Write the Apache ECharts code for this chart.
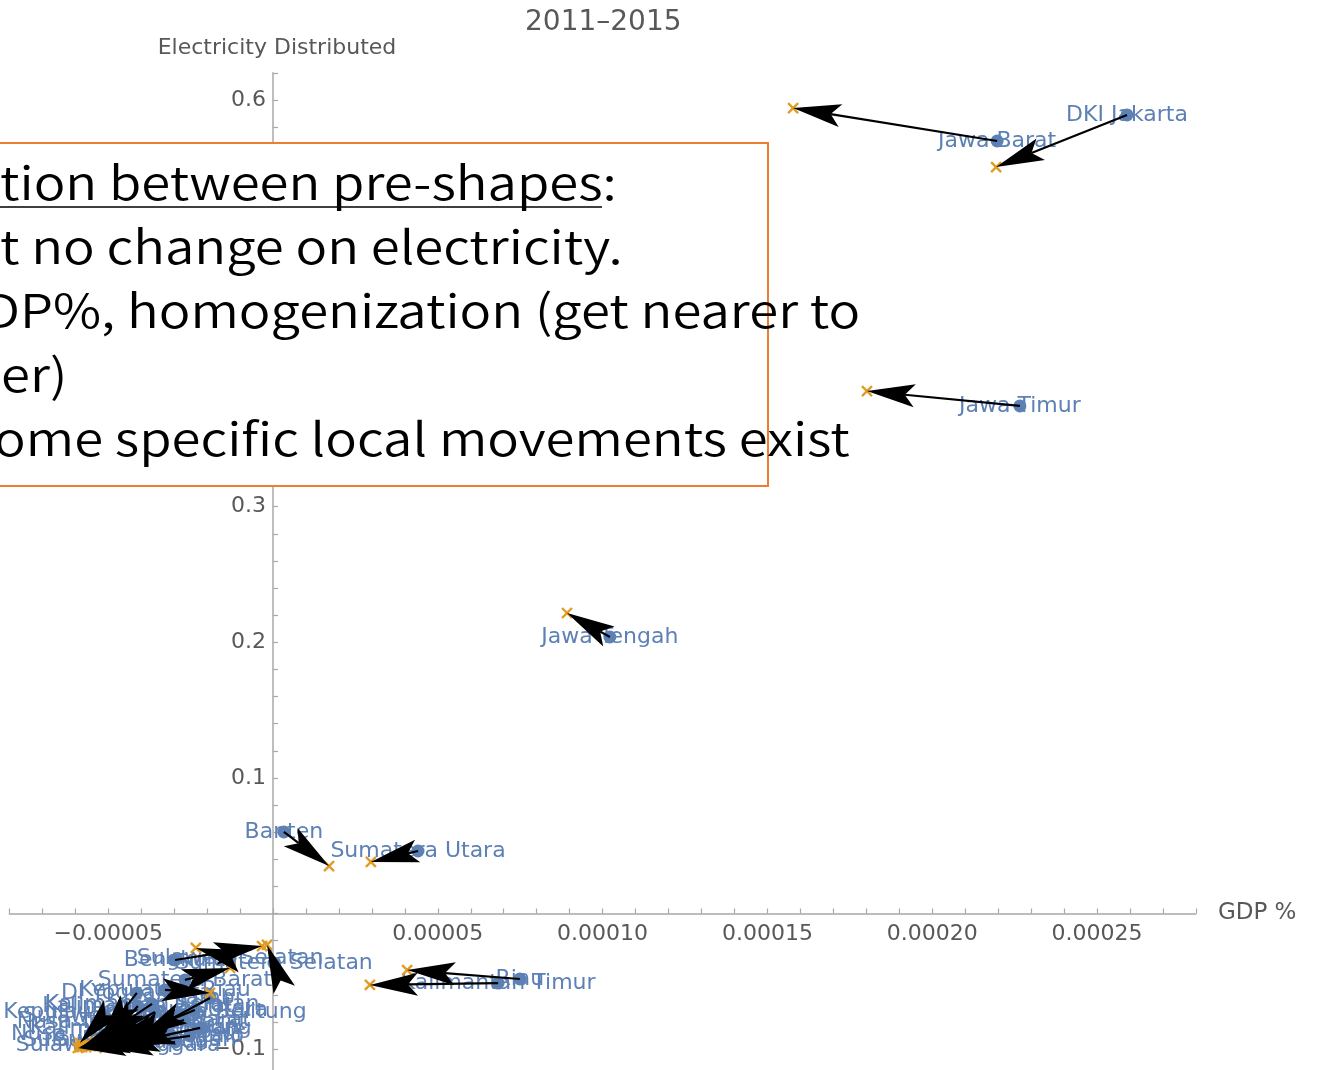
<!DOCTYPE html>
<html>
<head>
<meta charset="utf-8">
<style>
  html, body { margin: 0; padding: 0; background: #ffffff; }
  #chart { width: 1322px; height: 1070px; }
</style>
<script src="https://cdn.jsdelivr.net/npm/echarts@6/dist/echarts.min.js"></script>
</head>
<body>
<div id="chart"></div>
<script>
// ---- data ----
const provinces = ['DKI Jakarta','Jawa Barat','Jawa Timur','Jawa Tengah','Banten','Sumatera Utara','Kalimantan Timur','Riau',
  'Sulawesi Selatan','Sumatera Selatan','Bengkulu','Sumatera Barat','Kepulauan Riau','DI Yogyakarta','Kalimantan Selatan',
  'Kalimantan Barat','Kalimantan Tengah','Papua Barat','Lampung','Sulawesi Tengah','Maluku Utara','Jambi',
  'Nusa Tenggara Barat','Nusa Tenggara Timur','Sulawesi Utara','Sulawesi Barat','Bali','Aceh','Maluku','Papua',
  'Kepulauan Bangka Belitung','Sulawesi Tenggara','Gorontalo'];
// GDP % (2011)
const gdp2011 = [25.91e-5, 21.97e-5, 22.66e-5, 10.22e-5, 0.33e-5, 4.40e-5, 6.83e-5, 7.49e-5,
  -1.30e-5, 0.03e-5, -2.97e-5, -2.67e-5, -3.28e-5, -4.13e-5, -3.67e-5,
  -4.10e-5, -4.19e-5, -2.70e-5, -2.21e-5, -3.88e-5, -2.37e-5, -1.91e-5,
  -4.28e-5, -4.40e-5, -5.10e-5, -5.10e-5, -3.13e-5, -2.82e-5, -3.28e-5, -2.97e-5,
  -3.58e-5, -4.70e-5, -2.52e-5];
// Electricity distributed (2011)
const elec2011 = [0.5889, 0.5697, 0.3743, 0.2039, 0.0601, 0.0461, -0.0513, -0.0483,
  -0.0328, -0.0365, -0.0343, -0.0490, -0.0564, -0.0586, -0.0667,
  -0.0682, -0.0844, -0.0785, -0.0844, -0.0933, -0.0712, -0.0623,
  -0.0800, -0.0889, -0.0756, -0.0933, -0.0896, -0.0748, -0.0785, -0.0948,
  -0.0726, -0.0970, -0.0903];
// GDP % (2015)
const gdp2015 = [21.94e-5, 15.78e-5, 18.02e-5, 8.92e-5, 1.70e-5, 2.97e-5, 2.94e-5, 4.07e-5,
  -2.34e-5, -0.18e-5, -0.33e-5, -1.30e-5, -1.91e-5, -5.25e-5, -5.40e-5,
  -5.10e-5, -5.61e-5, -5.25e-5, -4.43e-5, -5.79e-5, -4.79e-5, -4.04e-5,
  -5.73e-5, -5.67e-5, -5.86e-5, -5.86e-5, -5.55e-5, -4.95e-5, -4.64e-5, -5.10e-5,
  -5.37e-5, -5.92e-5, -4.89e-5];
// Electricity distributed (2015)
const elec2015 = [0.5505, 0.5940, 0.3853, 0.2216, 0.0350, 0.0380, -0.0527, -0.0417,
  -0.0254, -0.0232, -0.0240, -0.0402, -0.0586, -0.0933, -0.0948,
  -0.0970, -0.0962, -0.0977, -0.0955, -0.0985, -0.0948, -0.0903,
  -0.0970, -0.0985, -0.0955, -0.0985, -0.0977, -0.0962, -0.0977, -0.0992,
  -0.0962, -0.0992, -0.0985];

const titleText = '2011\u20132015';
const xName = 'GDP %';
const yName = 'Electricity Distributed';
const noteLines = [
  'tion between pre-shapes:',
  't no change on electricity.',
  'DP%, homogenization (get nearer to',
  'er)',
  'ome specific local movements exist'
];

// ---- styling ----
const BLUE = '#5E81B5';
const ORANGE = '#E19C24';
const AXIS = '#a8a8a8';
const TXT = '#585858';
const FONT = 'DejaVu Sans';

const chart = echarts.init(document.getElementById('chart'), null, { renderer: 'canvas' });

const pointData = provinces.map((n, i) => ({ name: n, value: [gdp2011[i], elec2011[i]] }));
const endData = provinces.map((n, i) => [gdp2015[i], elec2015[i]]);
const arrowData = provinces.map((n, i) => [gdp2011[i], elec2011[i], gdp2015[i], elec2015[i]]);

function fmtX(v) {
  const k = v / 0.00005;
  if (Math.abs(k - Math.round(k)) > 1e-6 || Math.round(k) === 0) return '';
  return (v < 0 ? '\u2212' : '') + Math.abs(v).toFixed(5);
}
function fmtY(v) {
  const k = v / 0.1;
  if (Math.abs(k - Math.round(k)) > 1e-6 || Math.round(k) === 0) return '';
  return (v < 0 ? '\u2212' : '') + Math.abs(v).toFixed(1);
}

function renderArrow(params, api) {
  const p1 = api.coord([api.value(0), api.value(1)]);
  const p2 = api.coord([api.value(2), api.value(3)]);
  const dx = p2[0] - p1[0], dy = p2[1] - p1[1];
  const len = Math.hypot(dx, dy) || 1;
  const ux = dx / len, uy = dy / len;
  const L = 48, W = 11.5, N = 38;
  const bx = p2[0] - ux * L, by = p2[1] - uy * L;
  const nx = p2[0] - ux * N, ny = p2[1] - uy * N;
  const left = [bx - uy * W, by + ux * W];
  const right = [bx + uy * W, by - ux * W];
  const children = [];
  if (len > N) {
    children.push({ type: 'line', shape: { x1: p1[0], y1: p1[1], x2: nx, y2: ny },
      style: { stroke: '#000', lineWidth: 2.2 } });
  }
  children.push({ type: 'polygon', shape: { points: [p2, left, [nx, ny], right] },
    style: { fill: '#000' } });
  return { type: 'group', children: children };
}

function renderCross(params, api) {
  const p = api.coord([api.value(0), api.value(1)]);
  const s = 5;
  return { type: 'group', children: [
    { type: 'line', shape: { x1: p[0] - s, y1: p[1] - s, x2: p[0] + s, y2: p[1] + s }, style: { stroke: ORANGE, lineWidth: 2.4 } },
    { type: 'line', shape: { x1: p[0] - s, y1: p[1] + s, x2: p[0] + s, y2: p[1] - s }, style: { stroke: ORANGE, lineWidth: 2.4 } }
  ]};
}

const noteFont = '350 46px "Noto Sans CJK JP"';
const noteX = [0, 0, -16, 1, -6];
const noteY0 = 183, notePitch = 64, noteScaleX = 1.145;

const graphics = [
  { type: 'rect', z: 100, shape: { x: -10, y: 143, width: 778, height: 343 },
    style: { fill: '#ffffff', stroke: '#ED7D31', lineWidth: 2 } }
];
noteLines.forEach((t, i) => {
  graphics.push({ type: 'text', z: 101, x: noteX[i], y: noteY0 + i * notePitch, scaleX: noteScaleX,
    style: { text: t, font: noteFont, fill: '#000', verticalAlign: 'middle', align: 'left' } });
});
graphics.push({ type: 'line', z: 101, shape: { x1: 0, y1: 207, x2: 602, y2: 207 },
  style: { stroke: '#000', lineWidth: 1.6 } });

const option = {
  backgroundColor: '#ffffff',
  animation: false,
  title: {
    text: titleText, left: 520, top: 4,
    textStyle: { fontFamily: FONT, fontSize: 28, fontWeight: 'normal', color: TXT }
  },
  grid: { left: 9.3, right: 126.1, top: 72.8, bottom: -6.2, containLabel: false, outerBoundsMode: 'none' },
  xAxis: {
    type: 'value', min: -0.00008, max: 0.00028, interval: 0.00001, position: 'bottom', offset: 0,
    name: xName, nameLocation: 'end', nameGap: 22,
    nameTextStyle: { fontFamily: FONT, fontSize: 23, color: TXT },
    axisLine: { onZero: false, lineStyle: { color: AXIS, width: 1.5 } },
    axisTick: { show: true, inside: true, length: 5, lineStyle: { color: AXIS, width: 1.2 } },
    axisLabel: { formatter: fmtX, margin: 10, fontFamily: FONT, fontSize: 22, color: TXT },
    splitLine: { show: false }
  },
  yAxis: {
    type: 'value', min: -0.12, max: 0.62, interval: 0.02, position: 'left', offset: 0,
    name: yName, nameLocation: 'end', nameGap: 14,
    nameTextStyle: { fontFamily: FONT, fontSize: 22, color: TXT, padding: [0, 0, 0, 8] },
    axisLine: { onZero: false, lineStyle: { color: AXIS, width: 1.5 } },
    axisTick: { show: true, inside: true, length: 5, lineStyle: { color: AXIS, width: 1.2 } },
    axisLabel: { formatter: fmtY, margin: 7, fontFamily: FONT, fontSize: 22, color: TXT },
    splitLine: { show: false }
  },
  series: [
    {
      type: 'scatter', z: 2, data: pointData, symbol: 'circle', symbolSize: 13,
      itemStyle: { color: BLUE, opacity: 1 },
      label: { show: true, position: 'inside', formatter: '{b}', color: BLUE,
        fontFamily: FONT, fontSize: 22 },
      labelLayout: { hideOverlap: false },
      emphasis: { disabled: true }
    },
    {
      type: 'custom', z: 3, clip: false, renderItem: renderCross, data: endData,
      encode: { x: 0, y: 1 }, silent: true
    },
    {
      type: 'custom', z: 4, clip: false, renderItem: renderArrow, data: arrowData,
      encode: { x: [0, 2], y: [1, 3] }, silent: true
    }
  ],
  graphic: graphics
};
chart.setOption(option);

// place both axes through the origin (axis lines, ticks and labels together)
const origin = chart.convertToPixel({ gridIndex: 0 }, [0, 0]);
const corner = chart.convertToPixel({ gridIndex: 0 }, [option.xAxis.min, option.yAxis.min]);
chart.setOption({
  xAxis: { offset: origin[1] - corner[1] },
  yAxis: { offset: corner[0] - origin[0] }
});
</script>
</body>
</html>
